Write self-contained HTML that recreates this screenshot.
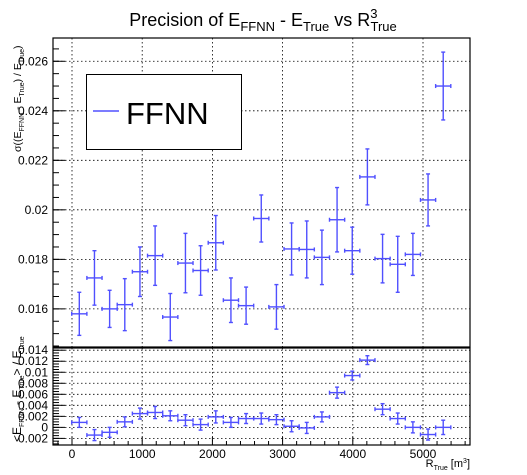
<!DOCTYPE html>
<html><head><meta charset="utf-8"><style>
html,body{margin:0;padding:0;background:#fff;}
svg{display:block;font-family:"Liberation Sans",sans-serif;}
</style></head><body>
<svg id="chart" width="527" height="475" viewBox="0 0 527 475" xmlns="http://www.w3.org/2000/svg">
<text x="263" y="26" text-anchor="middle" font-size="18">Precision of E<tspan font-size="13" dy="5">FFNN</tspan><tspan dy="-5"> - E</tspan><tspan font-size="13" dy="5">True</tspan><tspan dy="-5"> vs R</tspan><tspan font-size="13" dy="-8">3</tspan><tspan font-size="13" dx="-7" dy="13">True</tspan></text>
<g id="top"></g><g id="bot"></g>
<text transform="translate(21,152) rotate(-90)" font-size="10.5">σ((E<tspan font-size="7" dy="3">FFNN</tspan><tspan dy="-3"> - E</tspan><tspan font-size="7" dy="3">True</tspan><tspan dy="-3">) / E</tspan><tspan font-size="7" dy="3">True</tspan><tspan dy="-3">)</tspan></text>
<text transform="translate(21,442) rotate(-90)" font-size="12">&lt;E<tspan font-size="7" dy="3">FFNN</tspan><tspan dy="-3"> - E</tspan><tspan font-size="7" dy="3">True</tspan><tspan dy="-3">&gt; / E</tspan><tspan font-size="7" dy="3">True</tspan></text>
<text x="470" y="467" text-anchor="end" font-size="11">R<tspan font-size="7" dy="3">True</tspan><tspan dy="-3"> [m</tspan><tspan font-size="7" dy="-4">3</tspan><tspan dy="4">]</tspan></text>
<g>
<rect x="86.5" y="74.5" width="155" height="75" fill="#fff" stroke="#000" stroke-width="1"/>
<line x1="93" y1="111" x2="119" y2="111" stroke="#5050ff" stroke-width="1.5"/>
<text x="126" y="124" font-size="31">FFNN</text>
</g>
</svg>
<script>
const binCenters=[104,320,536,752,968,1184,1400,1616,1832,2048,2264,2480,2696,2912,3128,3344,3560,3776,3992,4208,4424,4640,4856,5072,5288];
const binHalfWidth=108;
const sigmaValues=[0.0158,0.01725,0.0160,0.01617,0.0175,0.01815,0.01567,0.01785,0.01755,0.01867,0.01635,0.01613,0.01965,0.01608,0.01842,0.0184,0.01808,0.0196,0.01835,0.02133,0.01803,0.0178,0.0182,0.0204,0.025];
const sigmaErrors=[0.00087,0.0011,0.00075,0.00105,0.001,0.0012,0.00095,0.0012,0.001,0.0011,0.0009,0.00075,0.00095,0.0009,0.00105,0.00115,0.0011,0.0013,0.00095,0.00113,0.00098,0.00113,0.00085,0.00105,0.00137];
const biasValues=[0.0009,-0.0014,-0.0009,0.001,0.0025,0.0027,0.0021,0.0013,0.0005,0.0019,0.0009,0.0016,0.0016,0.0014,0.0002,-0.0001,0.0019,0.0063,0.0094,0.0122,0.0033,0.0016,0.0,-0.0013,0.0];
const biasErrors=[0.0009,0.001,0.0009,0.0009,0.001,0.0011,0.0009,0.001,0.001,0.0011,0.0009,0.0009,0.001,0.0009,0.001,0.001,0.0009,0.001,0.0008,0.0008,0.001,0.001,0.001,0.001,0.0013];
const xTicks=[0,1000,2000,3000,4000,5000];
const topTicks=[0.016,0.018,0.02,0.022,0.024,0.026];
const topTickLabels=["0.016","0.018","0.02","0.022","0.024","0.026"];
const botTicks=[-0.002,0,0.002,0.004,0.006,0.008,0.01,0.012,0.014];
const botTickLabels=["0.002","0","0.002","0.004","0.006","0.008","0.01","0.012","0.014"];

const NS="http://www.w3.org/2000/svg";
const L=53,R=470;
const X=v=>72+(v/5000)*(423-72);
const T={y0:38,y1:347,v0:0.01446,v1:0.02694};
const B={y0:348,y1:445,v0:-0.0032,v1:0.0144};
const Y=(p,v)=>p.y1-(v-p.v0)/(p.v1-p.v0)*(p.y1-p.y0);
function mk(parent,tag,attrs){const e=document.createElementNS(NS,tag);for(const k in attrs)e.setAttribute(k,attrs[k]);parent.appendChild(e);return e;}

function pad(gid,p,ticks,labels,vals,errs,minorStep,nameP,showX){
  const g=document.getElementById(gid);
  xTicks.forEach(t=>{const l=mk(g,'line',{x1:X(t),x2:X(t),y1:p.y0,y2:p.y1,stroke:'#000','stroke-width':0.8,'stroke-dasharray':'1.5,2.5'});
    
    });
  ticks.forEach((t,i)=>{const y=Y(p,t);
    const l=mk(g,'line',{x1:L,x2:R,y1:y,y2:y,stroke:'#000','stroke-width':0.8,'stroke-dasharray':'1.5,2.5'});
    
    
    const tx=mk(g,'text',{x:L-5,y:y+4,'text-anchor':'end','font-size':12});tx.textContent=labels[i];
    
    
    mk(g,'line',{x1:L,x2:L+12,y1:y,y2:y,stroke:'#000','stroke-width':1});});
  for(let v=Math.ceil(p.v0/minorStep)*minorStep;v<=p.v1;v+=minorStep){const y=Y(p,v);mk(g,'line',{x1:L,x2:L+6,y1:y,y2:y,stroke:'#000','stroke-width':1});}
  const f=mk(g,'rect',{x:L,y:p.y0,width:R-L,height:p.y1-p.y0,fill:'none',stroke:'#000','stroke-width':1.2});
  
  
  if(showX){
    for(let v=-200;v<=5600;v+=200){const x=X(v);const major=v%1000===0;mk(g,'line',{x1:x,x2:x,y1:p.y1,y2:p.y1-(major?8:4),stroke:'#000','stroke-width':1});}
    xTicks.forEach(t=>{const tx=mk(g,'text',{x:X(t),y:p.y1+13,'text-anchor':'middle','font-size':12});tx.textContent=t;
      
      });
  }
  vals.forEach((v,i)=>{const cx=X(binCenters[i]),cy=Y(p,v);
    const e=mk(g,'g',{stroke:'#5050ff','stroke-width':1.4});
    
    
    const xl=X(binCenters[i]-binHalfWidth),xr=X(binCenters[i]+binHalfWidth);
    const yt=Y(p,v+errs[i]),yb=Y(p,v-errs[i]);
    mk(e,'line',{x1:xl,x2:xr,y1:cy,y2:cy});
    mk(e,'line',{x1:cx,x2:cx,y1:yt,y2:yb});
    mk(e,'line',{x1:cx-2,x2:cx+2,y1:yt,y2:yt});
    mk(e,'line',{x1:cx-2,x2:cx+2,y1:yb,y2:yb});
    mk(e,'line',{x1:xl,x2:xl,y1:cy-2,y2:cy+2});
    mk(e,'line',{x1:xr,x2:xr,y1:cy-2,y2:cy+2});
  });
}
pad('top',T,topTicks,topTickLabels,sigmaValues,sigmaErrors,0.0005,'sigma',false);
pad('bot',B,botTicks,botTickLabels,biasValues,biasErrors,0.0005,'bias',true);
</script>
</body></html>
